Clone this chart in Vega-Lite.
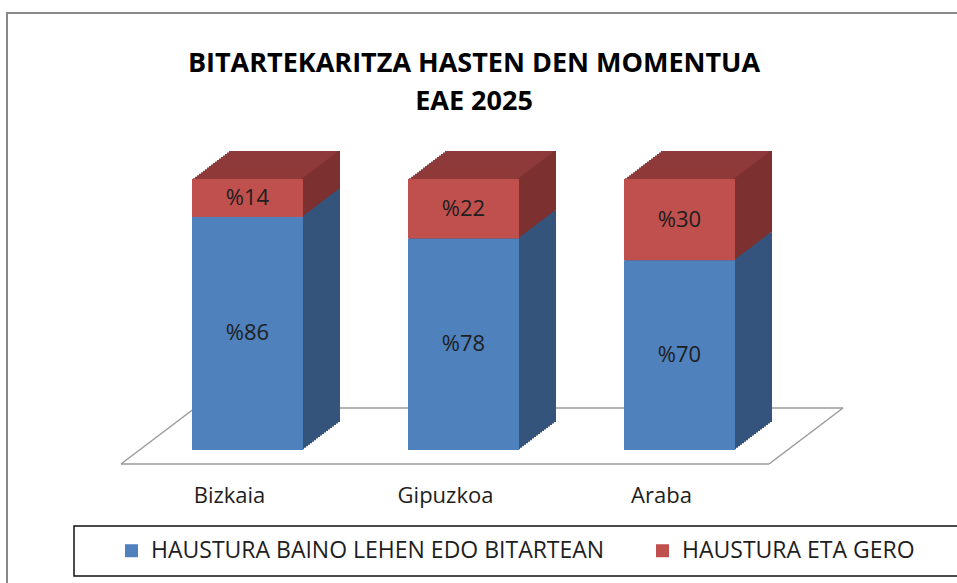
{
  "$schema": "https://vega.github.io/schema/vega-lite/v6.json",
  "width": 960,
  "height": 580,
  "autosize": {"type": "none"},
  "padding": {"left": 7, "top": 13, "right": 0, "bottom": 0},
  "background": "white",
  "config": {
    "view": {"stroke": "#898989", "strokeWidth": 2},
    "font": "Open Sans",
    "legend": {"strokeWidth": 1.5}
  },
  "title": {
    "text": ["BITARTEKARITZA HASTEN DEN MOMENTUA", "EAE 2025"],
    "font": "Open Sans",
    "fontSize": 27,
    "fontWeight": "bold",
    "color": "#000000",
    "anchor": "middle",
    "frame": "group",
    "lineHeight": 38,
    "baseline": "top",
    "offset": 0,
    "dx": -13,
    "dy": 103
  },
  "data": {
    "values": [
      {"region": "Bizkaia", "series": "HAUSTURA BAINO LEHEN EDO BITARTEAN", "value": 86},
      {"region": "Bizkaia", "series": "HAUSTURA ETA GERO", "value": 14},
      {"region": "Gipuzkoa", "series": "HAUSTURA BAINO LEHEN EDO BITARTEAN", "value": 78},
      {"region": "Gipuzkoa", "series": "HAUSTURA ETA GERO", "value": 22},
      {"region": "Araba", "series": "HAUSTURA BAINO LEHEN EDO BITARTEAN", "value": 70},
      {"region": "Araba", "series": "HAUSTURA ETA GERO", "value": 30}
    ]
  },
  "transform": [
    {"stack": "value", "groupby": ["region"], "sort": [{"field": "series", "order": "ascending"}], "as": ["v0", "v1"]}
  ],
  "resolve": {"scale": {"fill": "independent", "color": "independent"}},
  "layer": [
    {
      "data": {"values": [{}]},
      "mark": {"type": "rule", "color": "#9a9a9a", "strokeWidth": 1.5, "xOffset": -71, "x2Offset": 34},
      "encoding": {
        "x": {"datum": "Bizkaia", "type": "nominal", "bandPosition": 0, "scale": {"type": "band", "domain": ["Bizkaia", "Gipuzkoa", "Araba"], "range": [132.5, 780.5], "paddingInner": 0.4861, "paddingOuter": 0.243}, "axis": {"orient": "bottom", "title": null, "domain": false, "ticks": false, "labelAngle": 0, "labelFont": "Open Sans", "labelFontSize": 22, "labelColor": "#1e1e1e", "labelPadding": 0, "labelOffset": -18, "offset": -108, "grid": false}},
        "x2": {"datum": "Araba", "bandPosition": 1},
        "y": {"datum": -5.17, "type": "quantitative", "scale": {"domain": [0, 100], "range": [437, 166], "nice": false, "zero": false}, "axis": null}
      }
    },
    {
      "data": {"values": [{}]},
      "mark": {"type": "rule", "color": "#9a9a9a", "strokeWidth": 1.5, "xOffset": 3, "x2Offset": 108},
      "encoding": {
        "x": {"datum": "Bizkaia", "type": "nominal", "bandPosition": 0},
        "x2": {"datum": "Araba", "bandPosition": 1},
        "y": {"datum": 15.5, "type": "quantitative"}
      }
    },
    {
      "data": {"values": [{}]},
      "mark": {"type": "rule", "color": "#9a9a9a", "strokeWidth": 1.5, "xOffset": -71, "x2Offset": 3},
      "encoding": {
        "x": {"datum": "Bizkaia", "type": "nominal", "bandPosition": 0},
        "x2": {"datum": "Bizkaia", "bandPosition": 0},
        "y": {"datum": -5.17, "type": "quantitative"},
        "y2": {"datum": 15.5}
      }
    },
    {
      "data": {"values": [{}]},
      "mark": {"type": "rule", "color": "#9a9a9a", "strokeWidth": 1.5, "xOffset": 34, "x2Offset": 108},
      "encoding": {
        "x": {"datum": "Araba", "type": "nominal", "bandPosition": 1},
        "x2": {"datum": "Araba", "bandPosition": 1},
        "y": {"datum": -5.17, "type": "quantitative"},
        "y2": {"datum": 15.5}
      }
    },
    {
      "encoding": {
        "x": {"field": "region", "type": "nominal"},
        "y": {"field": "v1", "type": "quantitative"},
        "y2": {"field": "v0"},
        "fill": {"field": "series", "type": "nominal", "scale": {"domain": ["HAUSTURA BAINO LEHEN EDO BITARTEAN", "HAUSTURA ETA GERO"], "range": ["#34547C", "#8F3A3A"]}, "legend": null}
      },
      "layer": [
        {"mark": {"type": "bar", "xOffset": 37, "x2Offset": 37, "yOffset": -28, "y2Offset": -28}},
        {"mark": {"type": "bar", "xOffset": 35, "x2Offset": 35, "yOffset": -26.5, "y2Offset": -26.5}},
        {"mark": {"type": "bar", "xOffset": 33, "x2Offset": 33, "yOffset": -25, "y2Offset": -25}},
        {"mark": {"type": "bar", "xOffset": 31, "x2Offset": 31, "yOffset": -23.5, "y2Offset": -23.5}},
        {"mark": {"type": "bar", "xOffset": 29, "x2Offset": 29, "yOffset": -21.9, "y2Offset": -21.9}},
        {"mark": {"type": "bar", "xOffset": 27, "x2Offset": 27, "yOffset": -20.4, "y2Offset": -20.4}},
        {"mark": {"type": "bar", "xOffset": 25, "x2Offset": 25, "yOffset": -18.9, "y2Offset": -18.9}},
        {"mark": {"type": "bar", "xOffset": 23, "x2Offset": 23, "yOffset": -17.4, "y2Offset": -17.4}},
        {"mark": {"type": "bar", "xOffset": 21, "x2Offset": 21, "yOffset": -15.9, "y2Offset": -15.9}},
        {"mark": {"type": "bar", "xOffset": 19, "x2Offset": 19, "yOffset": -14.4, "y2Offset": -14.4}},
        {"mark": {"type": "bar", "xOffset": 17, "x2Offset": 17, "yOffset": -12.9, "y2Offset": -12.9}},
        {"mark": {"type": "bar", "xOffset": 15, "x2Offset": 15, "yOffset": -11.4, "y2Offset": -11.4}},
        {"mark": {"type": "bar", "xOffset": 13, "x2Offset": 13, "yOffset": -9.8, "y2Offset": -9.8}},
        {"mark": {"type": "bar", "xOffset": 11, "x2Offset": 11, "yOffset": -8.3, "y2Offset": -8.3}},
        {"mark": {"type": "bar", "xOffset": 9, "x2Offset": 9, "yOffset": -6.8, "y2Offset": -6.8}},
        {"mark": {"type": "bar", "xOffset": 7, "x2Offset": 7, "yOffset": -5.3, "y2Offset": -5.3}},
        {"mark": {"type": "bar", "xOffset": 5, "x2Offset": 5, "yOffset": -3.8, "y2Offset": -3.8}},
        {"mark": {"type": "bar", "xOffset": 3, "x2Offset": 3, "yOffset": -2.3, "y2Offset": -2.3}},
        {"mark": {"type": "bar", "xOffset": 1, "x2Offset": 1, "yOffset": -0.8, "y2Offset": -0.8}}
      ]
    },
    {
      "transform": [{"filter": "datum.series === 'HAUSTURA ETA GERO'"}],
      "encoding": {
        "x": {"field": "region", "type": "nominal"},
        "y": {"field": "v1", "type": "quantitative"},
        "y2": {"field": "v0"}
      },
      "layer": [
        {"mark": {"type": "bar", "color": "#7D3030", "width": 2.5, "xOffset": 91.25, "yOffset": -28, "y2Offset": -28}},
        {"mark": {"type": "bar", "color": "#7D3030", "width": 2.5, "xOffset": 89.25, "yOffset": -26.5, "y2Offset": -26.5}},
        {"mark": {"type": "bar", "color": "#7D3030", "width": 2.5, "xOffset": 87.25, "yOffset": -25, "y2Offset": -25}},
        {"mark": {"type": "bar", "color": "#7D3030", "width": 2.5, "xOffset": 85.25, "yOffset": -23.5, "y2Offset": -23.5}},
        {"mark": {"type": "bar", "color": "#7D3030", "width": 2.5, "xOffset": 83.25, "yOffset": -21.9, "y2Offset": -21.9}},
        {"mark": {"type": "bar", "color": "#7D3030", "width": 2.5, "xOffset": 81.25, "yOffset": -20.4, "y2Offset": -20.4}},
        {"mark": {"type": "bar", "color": "#7D3030", "width": 2.5, "xOffset": 79.25, "yOffset": -18.9, "y2Offset": -18.9}},
        {"mark": {"type": "bar", "color": "#7D3030", "width": 2.5, "xOffset": 77.25, "yOffset": -17.4, "y2Offset": -17.4}},
        {"mark": {"type": "bar", "color": "#7D3030", "width": 2.5, "xOffset": 75.25, "yOffset": -15.9, "y2Offset": -15.9}},
        {"mark": {"type": "bar", "color": "#7D3030", "width": 2.5, "xOffset": 73.25, "yOffset": -14.4, "y2Offset": -14.4}},
        {"mark": {"type": "bar", "color": "#7D3030", "width": 2.5, "xOffset": 71.25, "yOffset": -12.9, "y2Offset": -12.9}},
        {"mark": {"type": "bar", "color": "#7D3030", "width": 2.5, "xOffset": 69.25, "yOffset": -11.4, "y2Offset": -11.4}},
        {"mark": {"type": "bar", "color": "#7D3030", "width": 2.5, "xOffset": 67.25, "yOffset": -9.8, "y2Offset": -9.8}},
        {"mark": {"type": "bar", "color": "#7D3030", "width": 2.5, "xOffset": 65.25, "yOffset": -8.3, "y2Offset": -8.3}},
        {"mark": {"type": "bar", "color": "#7D3030", "width": 2.5, "xOffset": 63.25, "yOffset": -6.8, "y2Offset": -6.8}},
        {"mark": {"type": "bar", "color": "#7D3030", "width": 2.5, "xOffset": 61.25, "yOffset": -5.3, "y2Offset": -5.3}},
        {"mark": {"type": "bar", "color": "#7D3030", "width": 2.5, "xOffset": 59.25, "yOffset": -3.8, "y2Offset": -3.8}},
        {"mark": {"type": "bar", "color": "#7D3030", "width": 2.5, "xOffset": 57.25, "yOffset": -2.3, "y2Offset": -2.3}},
        {"mark": {"type": "bar", "color": "#7D3030", "width": 2.5, "xOffset": 55.25, "yOffset": -0.8, "y2Offset": -0.8}}
      ]
    },
    {
      "mark": {"type": "bar"},
      "encoding": {
        "x": {"field": "region", "type": "nominal"},
        "y": {"field": "v1", "type": "quantitative"},
        "y2": {"field": "v0"},
        "color": {
          "field": "series",
          "type": "nominal",
          "scale": {"domain": ["HAUSTURA BAINO LEHEN EDO BITARTEAN", "HAUSTURA ETA GERO"], "range": ["#4F81BD", "#C0504D"]},
          "legend": {
            "orient": "none",
            "legendX": 67,
            "legendY": 513,
            "direction": "horizontal",
            "title": " ",
            "titleOrient": "left",
            "titleFontSize": 21,
            "titlePadding": 33,
            "padding": 13,
            "strokeColor": "#111111",
            "symbolType": "square",
            "symbolSize": 169,
            "symbolStrokeWidth": 0,
            "labelFont": "Open Sans",
            "labelFontSize": 23,
            "labelColor": "#1e1e1e",
            "labelOffset": 8,
            "labelLimit": 1000,
            "columnPadding": 46,
            "labelExpr": "datum.label === 'HAUSTURA ETA GERO' ? datum.label + '\u2003\u2002\u200b' : datum.label"
          }
        }
      }
    },
    {
      "transform": [{"calculate": "'%' + datum.value", "as": "label"}],
      "mark": {"type": "text", "font": "Open Sans", "fontSize": 22, "color": "#1e1e1e", "align": "center", "baseline": "middle"},
      "encoding": {
        "x": {"field": "region", "type": "nominal", "bandPosition": 0.5},
        "y": {"field": "value", "type": "quantitative", "stack": "zero", "bandPosition": 0.5},
        "detail": {"field": "series"},
        "text": {"field": "label"}
      }
    }
  ]
}
